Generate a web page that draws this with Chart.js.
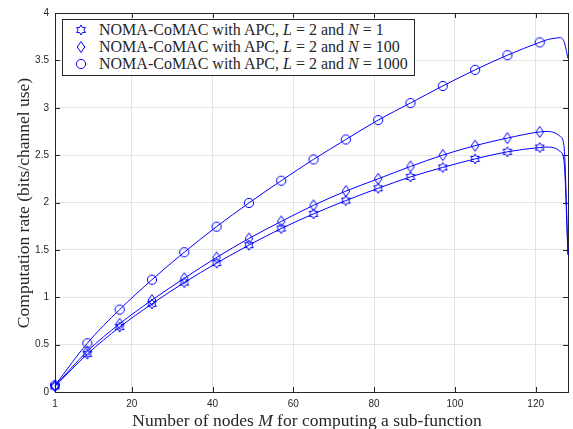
<!DOCTYPE html>
<html lang="en">
<head>
  <meta charset="UTF-8">
  <title>Computation rate vs M</title>
  <style>
    body {
      margin: 0;
      background: #fff;
    }
    #wrap {
      position: relative;
      width: 573px;
      height: 429px;
    }
    #chart {
      position: absolute;
      left: 0;
      top: 0;
    }
    .serif {
      font-family: "Liberation Serif", "DejaVu Serif", serif;
      color: #262626;
      white-space: nowrap;
    }
    #ytitle {
      position: absolute;
      width: 340px;
      left: -147px;
      top: 192px;
      height: 22px;
      line-height: 22px;
      font-size: 17.5px;
      text-align: center;
      transform: rotate(-90deg);
    }
    #xtitle {
      position: absolute;
      left: 0;
      width: 614px;
      top: 409px;
      line-height: 22px;
      font-size: 17.5px;
      text-align: center;
    }
    #legend {
      position: absolute;
      left: 62px;
      top: 19px;
      width: 351px;
      height: 55px;
      border: 1px solid #262626;
      background: #fff;
    }
    .row {
      position: absolute;
      left: 0;
      height: 18px;
      line-height: 18px;
      font-size: 16px;
    }
    .row canvas {
      position: absolute;
      left: 11px;
      top: 2px;
    }
    .row span {
      position: absolute;
      left: 36px;
    }
  </style>
</head>
<body>
  <div id="wrap">
    <canvas id="chart" width="573" height="429"></canvas>
    <div id="ytitle" class="serif">Computation rate (bits/channel use)</div>
    <div id="xtitle" class="serif">Number of nodes <i>M</i> for computing a sub-function</div>
    <div id="legend"></div>
  </div>

  <script src="https://cdn.jsdelivr.net/npm/chart.js"></script>
  <script>
    // values (marker positions every 8 nodes, then the tail)
    const nodesM = [1, 9, 17, 25, 33, 41, 49, 57, 65, 73, 81, 89, 97, 105, 113, 121, 123, 125, 126, 127, 128];
    const markerM = [1, 9, 17, 25, 33, 41, 49, 57, 65, 73, 81, 89, 97, 105, 113, 121];
    const rateN1 = [0.06, 0.40, 0.685, 0.93, 1.155, 1.36, 1.55, 1.725, 1.88, 2.02, 2.15, 2.27, 2.37, 2.46, 2.535, 2.58,
                    2.585, 2.57, 2.54, 2.44, 1.45];
    const rateN100 = [0.065, 0.43, 0.72, 0.97, 1.20, 1.42, 1.62, 1.80, 1.97, 2.12, 2.25, 2.38, 2.50, 2.60, 2.68, 2.745,
                      2.75, 2.73, 2.70, 2.60, 1.45];
    const rateN1000 = [0.07, 0.515, 0.87, 1.185, 1.475, 1.745, 1.995, 2.23, 2.455, 2.665, 2.87, 3.05, 3.23, 3.40, 3.555, 3.69,
                       3.72, 3.735, 3.74, 3.70, 3.52];
    const seriesLabels = ['N = 1', 'N = 100', 'N = 1000'];
    const xTicks = [1, 20, 40, 60, 80, 100, 120];
    const yTicks = [0, 0.5, 1, 1.5, 2, 2.5, 3, 3.5, 4];

    const blue = 'rgb(0,0,255)';
    const axisColor = '#262626';

    function makeMarker(kind) {
      const c = document.createElement('canvas');
      c.width = 14;
      c.height = 14;
      const g = c.getContext('2d');
      g.strokeStyle = blue;
      g.lineWidth = 1;
      g.beginPath();
      if (kind === 'hexagram') {
        for (let i = 0; i < 12; i++) {
          const a = (-90 + i * 30) * Math.PI / 180;
          const r = i % 2 === 0 ? 5 : 5 / Math.sqrt(3);
          const px = 7 + r * Math.cos(a), py = 7 + r * Math.sin(a);
          if (i === 0) g.moveTo(px, py); else g.lineTo(px, py);
        }
        g.closePath();
      } else if (kind === 'diamond') {
        g.moveTo(7, 1.5);
        g.lineTo(10.8, 7);
        g.lineTo(7, 12.5);
        g.lineTo(3.2, 7);
        g.closePath();
      } else {
        g.arc(7, 7, 4.6, 0, Math.PI * 2);
      }
      g.stroke();
      return c;
    }

    const kinds = ['hexagram', 'diamond', 'circle'];
    const rates = [rateN1, rateN100, rateN1000];

    const datasets = rates.map((vals, i) => ({
      label: seriesLabels[i],
      data: nodesM.map((m, j) => ({ x: m, y: vals[j] })),
      borderColor: blue,
      borderWidth: 1,
      fill: false,
      cubicInterpolationMode: 'monotone',
      pointStyle: makeMarker(kinds[i]),
      pointRadius: nodesM.map(m => markerM.includes(m) ? 4 : 0),
      clip: false
    }));

    const boxTicks = {
      id: 'boxTicks',
      beforeDatasetsDraw(c) {
        const { ctx, chartArea: a, scales: { x, y } } = c;
        ctx.save();
        ctx.strokeStyle = axisColor;
        ctx.lineWidth = 1;
        ctx.beginPath();
        xTicks.forEach(v => {
          const px = Math.round(x.getPixelForValue(v)) + 0.5;
          ctx.moveTo(px, a.bottom);
          ctx.lineTo(px, a.bottom - 5);
          ctx.moveTo(px, a.top);
          ctx.lineTo(px, a.top + 5);
        });
        yTicks.forEach(v => {
          const py = Math.round(y.getPixelForValue(v)) + 0.5;
          ctx.moveTo(a.left, py);
          ctx.lineTo(a.left + 5, py);
          ctx.moveTo(a.right, py);
          ctx.lineTo(a.right - 5, py);
        });
        ctx.stroke();
        ctx.strokeRect(Math.round(a.left) + 0.5, Math.round(a.top) + 0.5,
                       Math.round(a.right - a.left), Math.round(a.bottom - a.top));
        ctx.restore();
      }
    };

    const tickFont = { family: '"Liberation Sans", Arial, sans-serif', size: 10 };

    new Chart(document.getElementById('chart'), {
      type: 'line',
      data: { datasets },
      plugins: [boxTicks],
      options: {
        responsive: false,
        animation: false,
        layout: { padding: { top: 13, right: 1, left: 0, bottom: 0 } },
        plugins: { legend: { display: false }, tooltip: { enabled: false } },
        scales: {
          x: {
            type: 'linear',
            min: 1,
            max: 128,
            afterBuildTicks: s => { s.ticks = xTicks.map(v => ({ value: v })); },
            afterFit: s => { s.height = 37; },
            ticks: { color: axisColor, font: tickFont, padding: 6, maxRotation: 0, callback: v => String(v) },
            grid: { color: '#e3e3e3', drawTicks: false },
            border: { color: axisColor }
          },
          y: {
            min: 0,
            max: 4,
            afterBuildTicks: s => { s.ticks = yTicks.map(v => ({ value: v })); },
            afterFit: s => { s.width = 55; },
            ticks: { color: axisColor, font: tickFont, padding: 6, callback: v => String(v) },
            grid: { color: '#e3e3e3', drawTicks: false },
            border: { color: axisColor }
          }
        }
      }
    });

    // legend with italic math symbols
    const legend = document.getElementById('legend');
    const rowCenters = [9.5, 26.5, 43.5];
    seriesLabels.forEach((lab, i) => {
      const row = document.createElement('div');
      row.className = 'row serif';
      row.style.top = (rowCenters[i] - 9) + 'px';
      row.appendChild(makeMarker(kinds[i]));
      const span = document.createElement('span');
      const n = lab.split('= ')[1];
      span.innerHTML = 'NOMA-CoMAC with APC, <i>L</i> = 2 and <i>N</i> = ' + n;
      row.appendChild(span);
      legend.appendChild(row);
    });
  </script>
</body>
</html>
